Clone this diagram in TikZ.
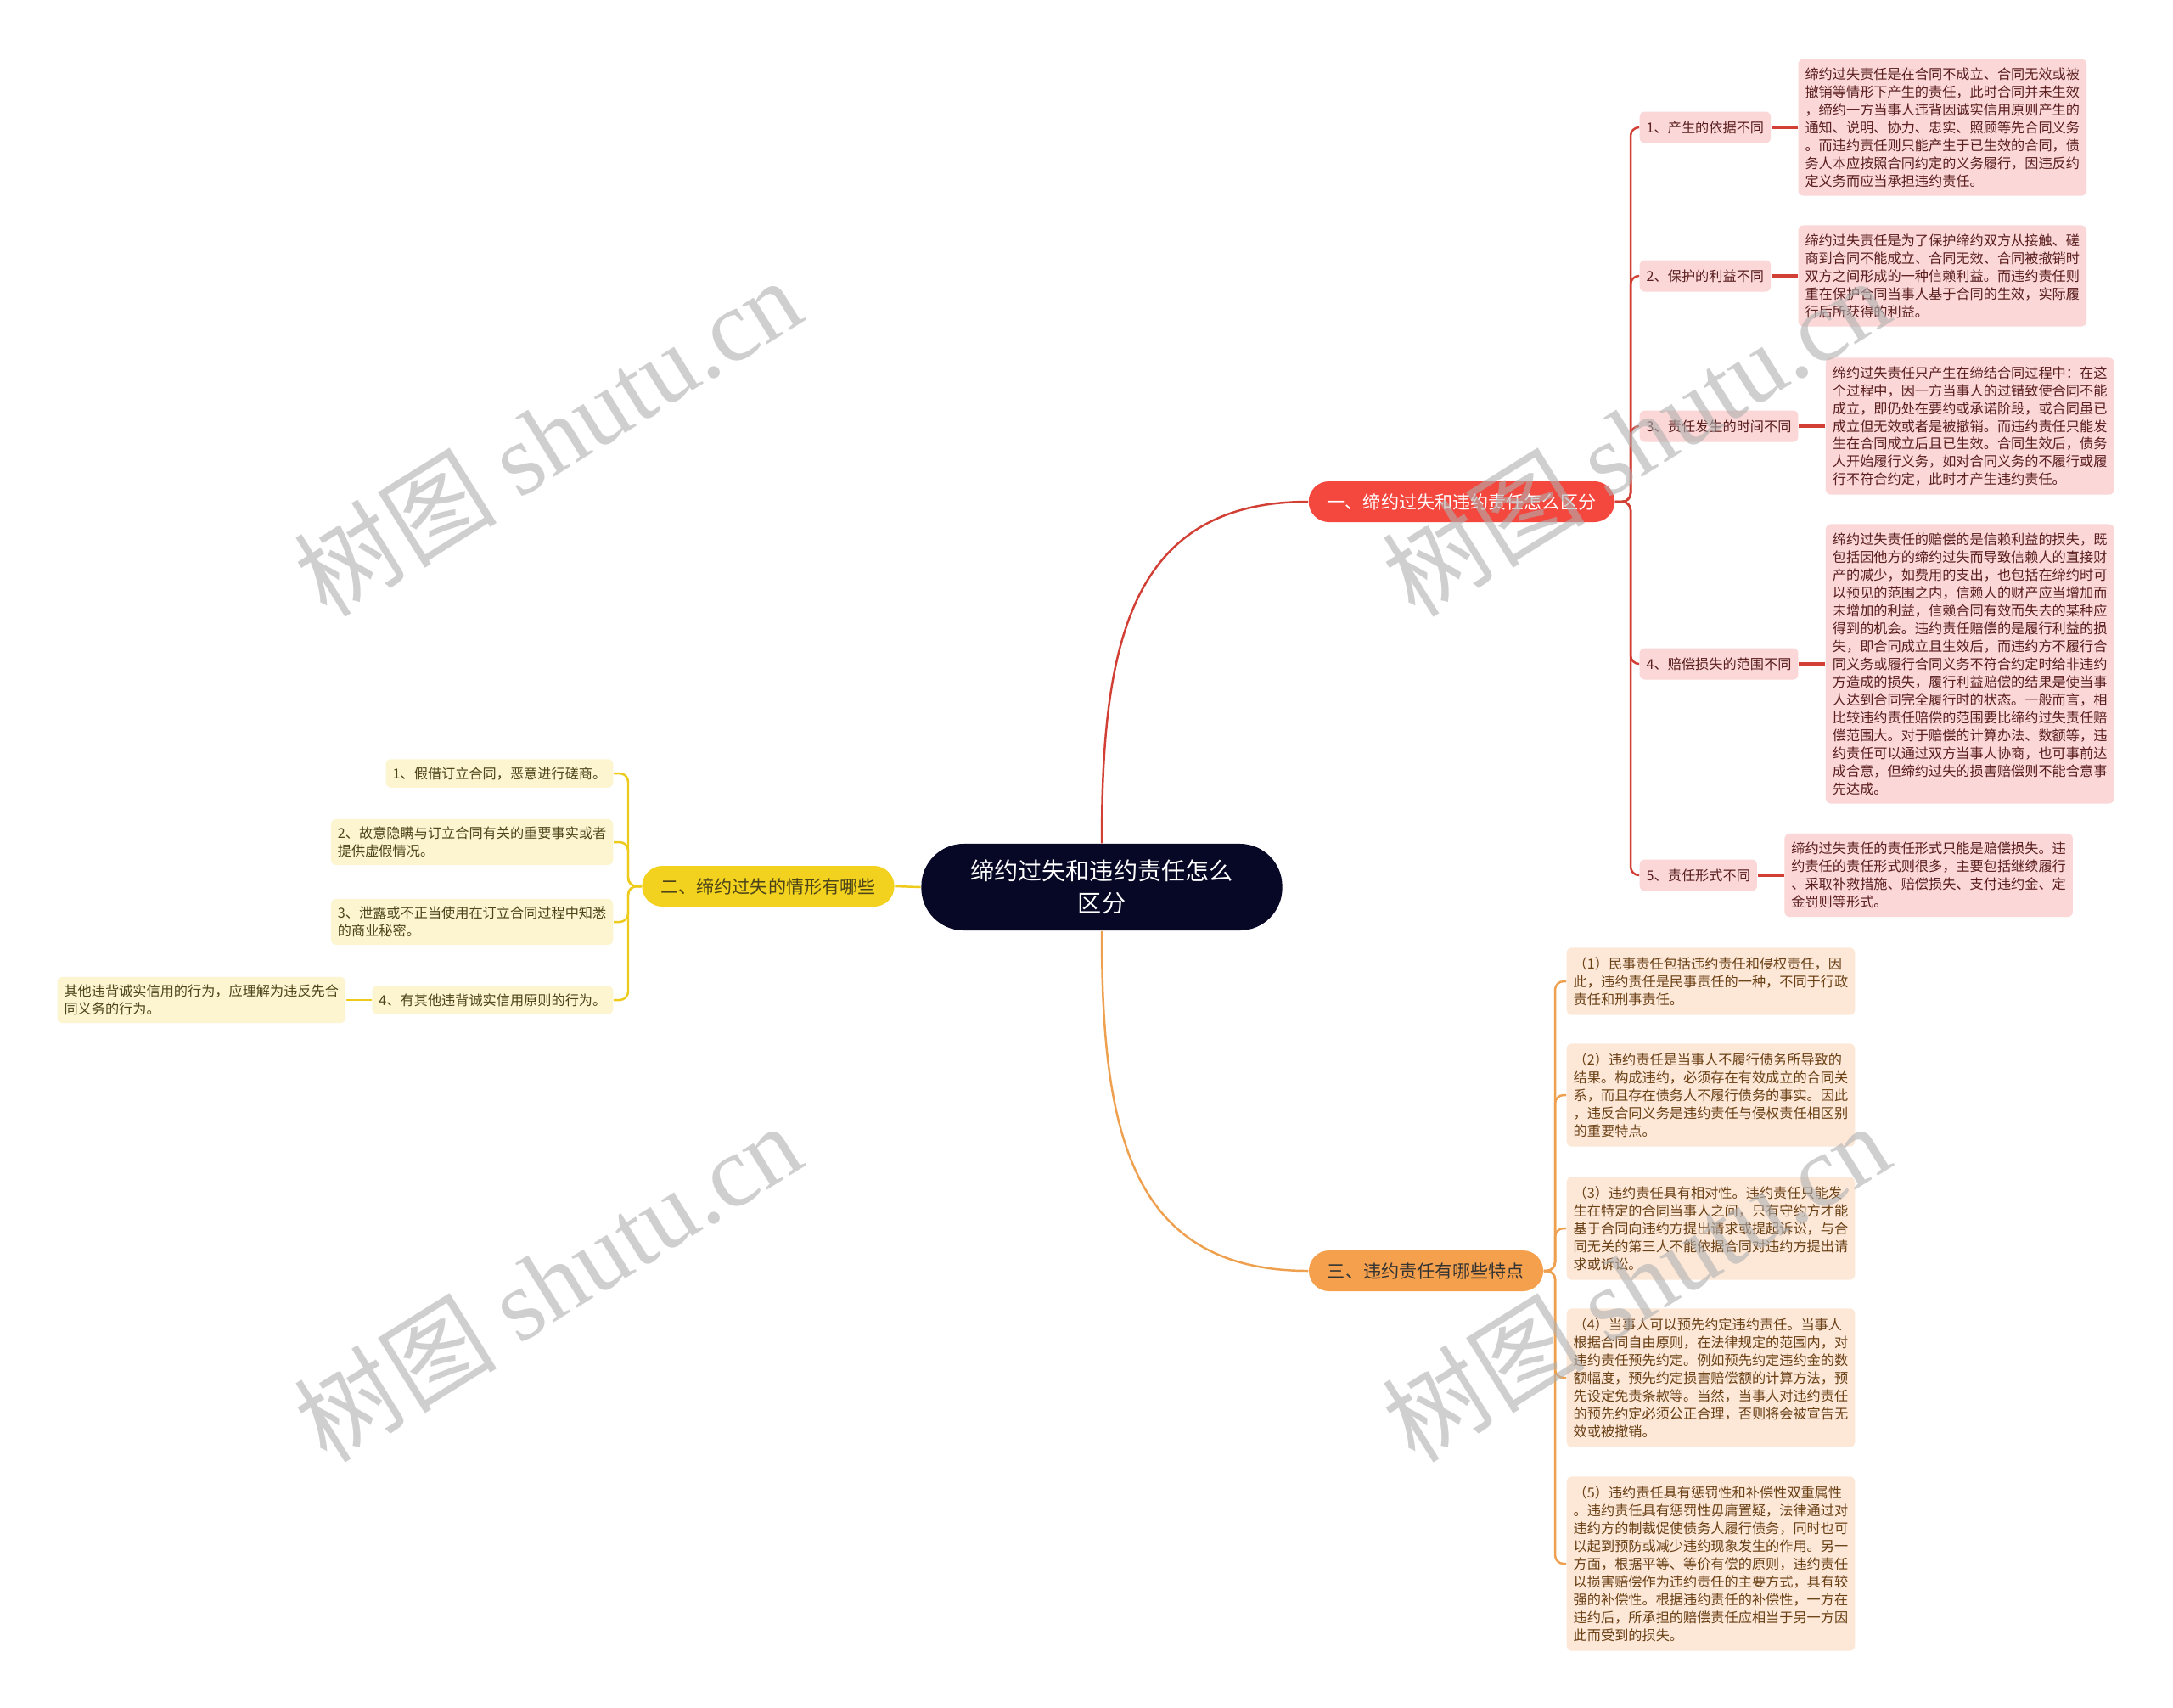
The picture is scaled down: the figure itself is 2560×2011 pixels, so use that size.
\documentclass[tikz,border=0pt]{standalone}
\usepackage{fontspec}
\setmainfont{Noto Sans CJK SC}
\newfontfamily\wmfont{Liberation Serif}
\usepackage{xcolor}
\usepackage{tikz}
\usetikzlibrary{positioning}

\definecolor{rootfill}{HTML}{070726}
\definecolor{redmain}{HTML}{F4473E}
\definecolor{redline}{HTML}{D23F35}
\definecolor{redleaf}{HTML}{FBD7D7}
\definecolor{redtext}{HTML}{5A1E1E}
\definecolor{yellowmain}{HTML}{F2D21E}
\definecolor{yellowline}{HTML}{EECB1A}
\definecolor{yellowleaf}{HTML}{FCF5D0}
\definecolor{yellowtext}{HTML}{4D4519}
\definecolor{orangemain}{HTML}{F4A04C}
\definecolor{orangeline}{HTML}{EFA04E}
\definecolor{orangeleaf}{HTML}{FDE8D8}
\definecolor{orangetext}{HTML}{6A4015}
\definecolor{wmgray}{HTML}{B0B0B0}

\newcommand{\rootfont}{\fontsize{8}{10.7}\selectfont}
\newcommand{\branchfont}{\fontsize{6}{7.2}\selectfont}
\newcommand{\leaffont}{\fontsize{4.6}{5.97}\selectfont}

\begin{document}
\begin{tikzpicture}[x=0.01cm, y=-0.01cm,
    every node/.style={inner xsep=0.08cm, inner ysep=0.1cm, align=left},
    root/.style={fill=rootfill, text=white, rounded corners=0.5cm, minimum width=4.25cm, minimum height=1.02cm, align=center, font=\rootfont},
    branch/.style={rounded corners=0.24cm, minimum height=0.48cm, inner xsep=0.22cm, font=\branchfont},
    redtopic/.style={fill=redleaf, text=redtext, rounded corners=0.06cm, minimum height=0.37cm, inner ysep=0.05cm, font=\leaffont},
    reddetail/.style={fill=redleaf, text=redtext, rounded corners=0.06cm, font=\leaffont},
    yellowtopic/.style={fill=yellowleaf, text=yellowtext, rounded corners=0.06cm, inner ysep=0.09cm, font=\leaffont},
    orangetopic/.style={fill=orangeleaf, text=orangetext, rounded corners=0.06cm, inner ysep=0.11cm, font=\leaffont},
    redlink/.style={draw=redline, line width=0.7pt},
    yellowlink/.style={draw=yellowline, line width=0.7pt},
    orangelink/.style={draw=orangeline, line width=0.7pt},
    watermark/.style={text=wmgray, opacity=0.6, font=\fontsize{34}{36}\selectfont, rotate=32}]

    \fill[white] (0,0) rectangle (2560,2011);
    \useasboundingbox (0,0) rectangle (2560,2011);

    % Nodes
    \node[root] (root) at (1298,1045) {缔约过失和违约责任怎么\\区分};

    \node[branch, fill=redmain, text=white] (b1) at (1722,591) {一、缔约过失和违约责任怎么区分};
    \node[branch, fill=yellowmain, text=yellowtext] (b2) at (905,1044) {二、缔约过失的情形有哪些};
    \node[branch, fill=orangemain, text=black!80] (b3) at (1680,1497) {三、违约责任有哪些特点};

    % first branch
    \node[redtopic, anchor=west] (r1) at (1931,150) {1、产生的依据不同};
    \node[reddetail, right=0.31cm of r1] (d1) {缔约过失责任是在合同不成立、合同无效或被\\撤销等情形下产生的责任，此时合同并未生效\\，缔约一方当事人违背因诚实信用原则产生的\\通知、说明、协力、忠实、照顾等先合同义务\\。而违约责任则只能产生于已生效的合同，债\\务人本应按照合同约定的义务履行，因违反约\\定义务而应当承担违约责任。};
    \node[redtopic, anchor=west] (r2) at (1931,325) {2、保护的利益不同};
    \node[reddetail, right=0.31cm of r2] (d2) {缔约过失责任是为了保护缔约双方从接触、磋\\商到合同不能成立、合同无效、合同被撤销时\\双方之间形成的一种信赖利益。而违约责任则\\重在保护合同当事人基于合同的生效，实际履\\行后所获得的利益。};
    \node[redtopic, anchor=west] (r3) at (1931,502) {3、责任发生的时间不同};
    \node[reddetail, right=0.31cm of r3] (d3) {缔约过失责任只产生在缔结合同过程中：在这\\个过程中，因一方当事人的过错致使合同不能\\成立，即仍处在要约或承诺阶段，或合同虽已\\成立但无效或者是被撤销。而违约责任只能发\\生在合同成立后且已生效。合同生效后，债务\\人开始履行义务，如对合同义务的不履行或履\\行不符合约定，此时才产生违约责任。};
    \node[redtopic, anchor=west] (r4) at (1931,782) {4、赔偿损失的范围不同};
    \node[reddetail, right=0.31cm of r4] (d4) {缔约过失责任的赔偿的是信赖利益的损失，既\\包括因他方的缔约过失而导致信赖人的直接财\\产的减少，如费用的支出，也包括在缔约时可\\以预见的范围之内，信赖人的财产应当增加而\\未增加的利益，信赖合同有效而失去的某种应\\得到的机会。违约责任赔偿的是履行利益的损\\失，即合同成立且生效后，而违约方不履行合\\同义务或履行合同义务不符合约定时给非违约\\方造成的损失，履行利益赔偿的结果是使当事\\人达到合同完全履行时的状态。一般而言，相\\比较违约责任赔偿的范围要比缔约过失责任赔\\偿范围大。对于赔偿的计算办法、数额等，违\\约责任可以通过双方当事人协商，也可事前达\\成合意，但缔约过失的损害赔偿则不能合意事\\先达成。};
    \node[redtopic, anchor=west] (r5) at (1931,1031) {5、责任形式不同};
    \node[reddetail, right=0.31cm of r5] (d5) {缔约过失责任的责任形式只能是赔偿损失。违\\约责任的责任形式则很多，主要包括继续履行\\、采取补救措施、赔偿损失、支付违约金、定\\金罚则等形式。};

    % second branch
    \node[yellowtopic, anchor=east] (y1) at (723,911) {1、假借订立合同，恶意进行磋商。};
    \node[yellowtopic, anchor=east] (y2) at (723,992) {2、故意隐瞒与订立合同有关的重要事实或者\\提供虚假情况。};
    \node[yellowtopic, anchor=east] (y3) at (723,1086) {3、泄露或不正当使用在订立合同过程中知悉\\的商业秘密。};
    \node[yellowtopic, anchor=east] (y4) at (723,1178) {4、有其他违背诚实信用原则的行为。};
    \node[yellowtopic, left=0.3cm of y4] (y5) {其他违背诚实信用的行为，应理解为违反先合\\同义务的行为。};

    % third branch
    \node[orangetopic, anchor=west] (o1) at (1845,1156) {（1）民事责任包括违约责任和侵权责任，因\\此，违约责任是民事责任的一种，不同于行政\\责任和刑事责任。};
    \node[orangetopic, anchor=west] (o2) at (1845,1290) {（2）违约责任是当事人不履行债务所导致的\\结果。构成违约，必须存在有效成立的合同关\\系，而且存在债务人不履行债务的事实。因此\\，违反合同义务是违约责任与侵权责任相区别\\的重要特点。};
    \node[orangetopic, anchor=west] (o3) at (1845,1447) {（3）违约责任具有相对性。违约责任只能发\\生在特定的合同当事人之间，只有守约方才能\\基于合同向违约方提出请求或提起诉讼，与合\\同无关的第三人不能依据合同对违约方提出请\\求或诉讼。};
    \node[orangetopic, anchor=west] (o4) at (1845,1623) {（4）当事人可以预先约定违约责任。当事人\\根据合同自由原则，在法律规定的范围内，对\\违约责任预先约定。例如预先约定违约金的数\\额幅度，预先约定损害赔偿额的计算方法，预\\先设定免责条款等。当然，当事人对违约责任\\的预先约定必须公正合理，否则将会被宣告无\\效或被撤销。};
    \node[orangetopic, anchor=west] (o5) at (1845,1842) {（5）违约责任具有惩罚性和补偿性双重属性\\。违约责任具有惩罚性毋庸置疑，法律通过对\\违约方的制裁促使债务人履行债务，同时也可\\以起到预防或减少违约现象发生的作用。另一\\方面，根据平等、等价有偿的原则，违约责任\\以损害赔偿作为违约责任的主要方式，具有较\\强的补偿性。根据违约责任的补偿性，一方在\\违约后，所承担的赔偿责任应相当于另一方因\\此而受到的损失。};

    % Edges from the root
    \draw[redlink] (root.north) .. controls (1298,760) and (1330,591) .. (b1.west);
    \draw[orangelink] (root.south) .. controls (1298,1330) and (1330,1497) .. (b3.west);
    \draw[yellowlink] (root.west) -- (b2.east);

    % Edges of the first branch
    \draw[redlink, rounded corners=0.1cm] (b1.east) -- (1921,591) |- (r1.west);
    \draw[redlink, rounded corners=0.1cm] (b1.east) -- (1921,591) |- (r2.west);
    \draw[redlink, rounded corners=0.1cm] (b1.east) -- (1921,591) |- (r3.west);
    \draw[redlink, rounded corners=0.1cm] (b1.east) -- (1921,591) |- (r4.west);
    \draw[redlink, rounded corners=0.1cm] (b1.east) -- (1921,591) |- (r5.west);
    \draw[redlink, line width=1.1pt] (r1) -- (d1);
    \draw[redlink, line width=1.1pt] (r2) -- (d2);
    \draw[redlink, line width=1.1pt] (r3) -- (d3);
    \draw[redlink, line width=1.1pt] (r4) -- (d4);
    \draw[redlink, line width=1.1pt] (r5) -- (d5);

    % Edges of the second branch
    \draw[yellowlink, rounded corners=0.1cm] (b2.west) -- (740,1044) |- (y1.east);
    \draw[yellowlink, rounded corners=0.1cm] (b2.west) -- (740,1044) |- (y2.east);
    \draw[yellowlink, rounded corners=0.1cm] (b2.west) -- (740,1044) |- (y3.east);
    \draw[yellowlink, rounded corners=0.1cm] (b2.west) -- (740,1044) |- (y4.east);
    \draw[yellowlink] (y4) -- (y5);

    % Edges of the third branch
    \draw[orangelink, rounded corners=0.1cm] (b3.east) -- (1832,1497) |- (o1.west);
    \draw[orangelink, rounded corners=0.1cm] (b3.east) -- (1832,1497) |- (o2.west);
    \draw[orangelink, rounded corners=0.1cm] (b3.east) -- (1832,1497) |- (o3.west);
    \draw[orangelink, rounded corners=0.1cm] (b3.east) -- (1832,1497) |- (o4.west);
    \draw[orangelink, rounded corners=0.1cm] (b3.east) -- (1832,1497) |- (o5.west);

    % Watermarks
    \node[watermark] (w1) at (645,514) {树图 {\wmfont shutu.cn}};
    \node[watermark] (w2) at (1927,514) {树图 {\wmfont shutu.cn}};
    \node[watermark] (w3) at (645,1510) {树图 {\wmfont shutu.cn}};
    \node[watermark] (w4) at (1927,1510) {树图 {\wmfont shutu.cn}};
\end{tikzpicture}
\end{document}
